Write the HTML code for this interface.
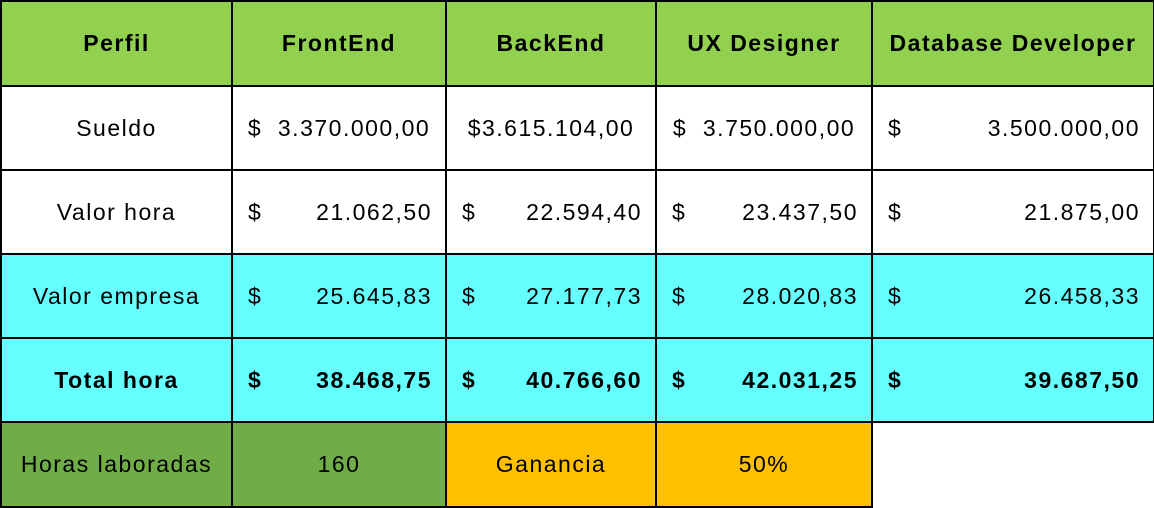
<!DOCTYPE html>
<html><head><style>
body{margin:0;width:1154px;height:508px;background:#fff;position:relative;font-family:"Liberation Sans",sans-serif;font-size:23px;letter-spacing:1.5px;color:#000;overflow:hidden}
.c{position:absolute;box-sizing:border-box;border:2px solid #000;display:flex;align-items:center;justify-content:center}
.b{font-weight:bold}
.d{position:absolute;left:15px}
.n{position:absolute;right:13px}
</style></head><body>
<div id="t"></div>
<script>
const X=[0,231,445,655,871,1153],Y=[0,85,169,253,337,421,507];
const rows=[
 {bg:'#92D050',b:1,cells:['Perfil','FrontEnd','BackEnd','UX Designer','Database Developer']},
 {bg:'#fff',cells:['Sueldo',['c','$  3.370.000,00'],['c','$3.615.104,00'],['c','$  3.750.000,00'],['$','3.500.000,00']]},
 {bg:'#fff',cells:['Valor hora',['$','21.062,50'],['$','22.594,40'],['$','23.437,50'],['$','21.875,00']]},
 {bg:'#66FFFF',cells:['Valor empresa',['$','25.645,83'],['$','27.177,73'],['$','28.020,83'],['$','26.458,33']]},
 {bg:'#66FFFF',b:1,cells:['Total hora',['$','38.468,75'],['$','40.766,60'],['$','42.031,25'],['$','39.687,50']]},
];
let h='';
rows.forEach((r,i)=>{r.cells.forEach((c,j)=>{
 let s=`left:${X[j]}px;top:${Y[i]}px;width:${X[j+1]-X[j]+2}px;height:${Y[i+1]-Y[i]+2}px;background:${r.bg}`;
 let inner;
 if(typeof c==='string')inner=c;
 else if(c[0]==='c')inner=c[1].replace(/ /g,'&nbsp;');
 else inner=`<span class="d">$</span><span class="n">${c[1]}</span>`;
 h+=`<div class="c${r.b?' b':''}" style="${s}">${inner}</div>`;
});});
const last=[['Horas laboradas','#70AD47'],['160','#70AD47'],['Ganancia','#FFC000'],['50%','#FFC000']];
last.forEach((c,j)=>{h+=`<div class="c" style="left:${X[j]}px;top:${Y[5]}px;width:${X[j+1]-X[j]+2}px;height:${Y[6]-Y[5]+1}px;background:${c[1]}">${c[0]}</div>`;});
document.getElementById('t').innerHTML=h;
</script>
</body></html>
